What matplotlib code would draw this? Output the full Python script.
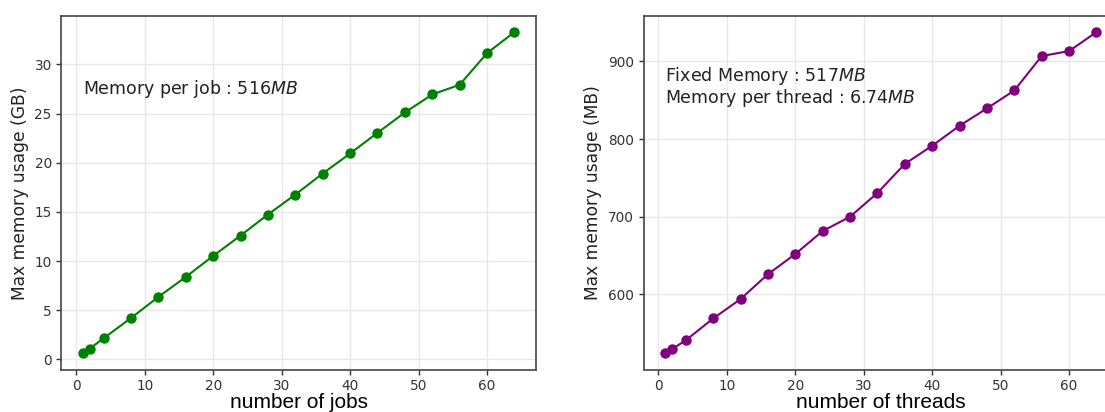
import matplotlib
matplotlib.use("Agg")
import matplotlib.pyplot as plt

# Data
jobs = [1, 2, 4, 8, 12, 16, 20, 24, 28, 32, 36, 40, 44, 48, 52, 56, 60, 64]
mem_jobs_gb = [0.6, 1.1, 2.14, 4.2, 6.35, 8.38, 10.52, 12.59, 14.73, 16.76,
               18.9, 20.94, 23.04, 25.11, 26.94, 27.93, 31.15, 33.29]
threads = [1, 2, 4, 8, 12, 16, 20, 24, 28, 32, 36, 40, 44, 48, 52, 56, 60, 64]
mem_threads_mb = [524, 529.5, 541, 569, 594, 626, 652, 681.6, 700, 730.6,
                  768, 791.4, 817.2, 839.5, 862.6, 906.9, 913.3, 937.8]

left_text = "Memory per job : 516$MB$"
right_text1 = "Fixed Memory : 517$MB$"
right_text2 = "Memory per thread : 6.74$MB$"

W, H = 1105, 412
fig = plt.figure(figsize=(W / 100, H / 100), dpi=100)

def make_ax(x0, x1):
    ax = fig.add_axes([x0 / W, (H - 369.5) / H, (x1 - x0) / W, (369.5 - 16) / H])
    ax.grid(True, color="#e8e8e8", linewidth=1.0)
    ax.set_axisbelow(True)
    for s in ax.spines.values():
        s.set_color("#444444")
        s.set_linewidth(1.2)
    ax.tick_params(labelsize=9.8, colors="#333333", length=3.5, width=1.0)
    return ax

ax1 = make_ax(61.5, 536)
ax1.plot(jobs, mem_jobs_gb, "-o", color="green", markersize=6.5, linewidth=1.5)
ax1.set_ylabel("Max memory usage (GB)", fontsize=12.3, color="#222222")
ax1.set_xlabel("number of jobs", fontsize=15, family="Liberation Sans", labelpad=0)
ax1.set_xticks([0, 10, 20, 30, 40, 50, 60])
ax1.set_yticks([0, 5, 10, 15, 20, 25, 30])
ax1.text(1, 27, left_text, fontsize=12.5, color="#222222")

ax2 = make_ax(643.7, 1118)
ax2.plot(threads, mem_threads_mb, "-o", color="purple", markersize=6.5, linewidth=1.5)
ax2.set_ylabel("Max memory usage (MB)", fontsize=12.3, color="#222222")
ax2.set_xlabel("number of threads", fontsize=15, family="Liberation Sans", labelpad=0)
ax2.set_xticks([0, 10, 20, 30, 40, 50, 60])
ax2.set_yticks([600, 700, 800, 900])
ax2.text(1, 875, right_text1, fontsize=12.5, color="#222222")
ax2.text(1, 846, right_text2, fontsize=12.5, color="#222222")

fig.savefig("out.png", dpi=100)
